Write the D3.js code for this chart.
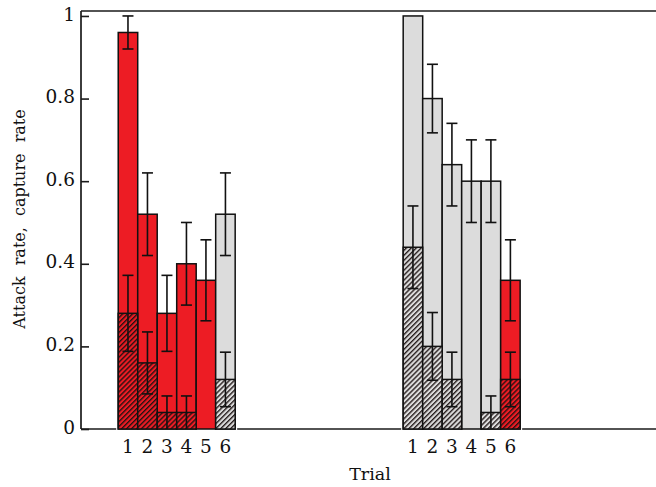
<!DOCTYPE html>
<html><head><meta charset="utf-8">
<script src="https://cdn.jsdelivr.net/npm/d3@7"></script>
<style>body{margin:0;background:#fff}svg{display:block}</style>
</head><body><svg id="c" width="656" height="487"></svg>
<script>
// ---- data ----
const trials = ["1","2","3","4","5","6"];
const groups = ["Condition A","Condition B"];
// attack rate (full bars) and its error
const attackA = [0.96, 0.52, 0.28, 0.40, 0.36, 0.52];
const attackErrA = [0.04, 0.10, 0.092, 0.10, 0.098, 0.10];
const attackB = [1.00, 0.80, 0.64, 0.60, 0.60, 0.36];
const attackErrB = [0, 0.083, 0.10, 0.10, 0.10, 0.098];
// capture rate (hatched bars) and its error
const captureA = [0.28, 0.16, 0.04, 0.04, 0, 0.12];
const captureErrA = [0.092, 0.075, 0.04, 0.04, 0, 0.066];
const captureB = [0.44, 0.20, 0.12, 0, 0.04, 0.12];
const captureErrB = [0.10, 0.082, 0.066, 0, 0.04, 0.066];
// treatment kind per bar (red / grey)
const kindA = ["red","red","red","red","red","grey"];
const kindB = ["grey","grey","grey","grey","grey","red"];
const yTicks = [0, 0.2, 0.4, 0.6, 0.8, 1];
const yTickLabels = ["0","0.2","0.4","0.6","0.8","1"];

// ---- layout ----
const mLeft = 81, mTop = 11, mBottom = 429, mRight = 656;
const colors = {red: "#ED1C24", grey: "#DCDCDC"};
const groupStart = [1.91, 16.53];

const svg = d3.select("#c");
const x = d3.scaleLinear().domain([0, 29.5]).range([mLeft, mRight]);
const y = d3.scaleLinear().domain([0, 1.012]).range([mBottom, mTop]);

// hatch patterns
const defs = svg.append("defs");
Object.entries(colors).forEach(([k, c]) => {
  const p = defs.append("pattern").attr("id", "hatch-" + k)
    .attr("patternUnits", "userSpaceOnUse").attr("width", 3.5).attr("height", 3.5)
    .attr("patternTransform", "rotate(45)");
  p.append("rect").attr("width", 3.5).attr("height", 3.5).attr("fill", c);
  p.append("line").attr("x1", 0.7).attr("y1", 0).attr("x2", 0.7).attr("y2", 3.5)
    .attr("stroke", "#1a1010").attr("stroke-width", 1.3);
});

const data = [];
[[attackA, attackErrA, captureA, captureErrA, kindA],
 [attackB, attackErrB, captureB, captureErrB, kindB]].forEach((arr, g) => {
  trials.forEach((t, i) => {
    data.push({g, i, t, att: arr[0][i], attErr: arr[1][i], cap: arr[2][i], capErr: arr[3][i], kind: arr[4][i],
               x0: groupStart[g] + i});
  });
});

// axes frame
const frame = svg.append("g").attr("stroke", "#1a1a1a").attr("stroke-width", 1.7).attr("fill", "none");
frame.append("line").attr("x1", mLeft).attr("x2", mRight).attr("y1", mTop).attr("y2", mTop);
frame.append("line").attr("x1", mLeft).attr("x2", mRight).attr("y1", mBottom).attr("y2", mBottom);
frame.append("line").attr("x1", mLeft).attr("x2", mLeft).attr("y1", mTop).attr("y2", mBottom);

// y axis via d3.axisRight (inward ticks)
const yAxis = svg.append("g").attr("transform", `translate(${mLeft},0)`)
  .call(d3.axisRight(y).tickValues(yTicks).tickSize(8).tickFormat(() => ""));
yAxis.select(".domain").remove();
yAxis.selectAll("line").attr("stroke", "#1a1a1a").attr("stroke-width", 1.6);
svg.append("g").selectAll("text").data(yTicks).join("text")
  .attr("x", mLeft - 6).attr("y", d => y(d)).attr("dy", "0.25em")
  .attr("text-anchor", "end").attr("font-family", "DejaVu Serif").attr("font-size", 18.5)
  .attr("fill", "#111").text((d, i) => yTickLabels[i]);

// bars
const bw = x(1) - x(0);
const bars = svg.append("g");
groups.forEach((gname, g) => {
  bars.append("rect").attr("x", x(groupStart[g]) - 2).attr("width", x(groupStart[g] + trials.length) - x(groupStart[g]) + 4)
    .attr("y", y(0) - 1).attr("height", 2).attr("fill", "#fff");
});
bars.selectAll("rect.full").data(data).join("rect").attr("class", "full")
  .attr("x", d => x(d.x0)).attr("width", bw)
  .attr("y", d => y(d.att)).attr("height", d => y(0) - y(d.att))
  .attr("fill", d => colors[d.kind]).attr("stroke", "#111").attr("stroke-width", 1.5);
bars.selectAll("rect.cap").data(data.filter(d => d.cap > 0)).join("rect").attr("class", "cap")
  .attr("x", d => x(d.x0)).attr("width", bw)
  .attr("y", d => y(d.cap)).attr("height", d => y(0) - y(d.cap))
  .attr("fill", d => `url(#hatch-${d.kind})`).attr("stroke", "#111").attr("stroke-width", 1.5);

// error bars
const capW = 5.5;
function errBars(list, vKey, eKey) {
  const g = svg.append("g").attr("stroke", "#111").attr("stroke-width", 1.6);
  list.filter(d => d[eKey] > 0).forEach(d => {
    const cx = x(d.x0 + 0.5);
    const hi = Math.min(d[vKey] + d[eKey], 1.012), lo = Math.max(d[vKey] - d[eKey], 0);
    g.append("line").attr("x1", cx).attr("x2", cx).attr("y1", y(hi)).attr("y2", y(lo));
    g.append("line").attr("x1", cx - capW).attr("x2", cx + capW).attr("y1", y(hi)).attr("y2", y(hi));
    if (lo > 0) g.append("line").attr("x1", cx - capW).attr("x2", cx + capW).attr("y1", y(lo)).attr("y2", y(lo));
  });
}
errBars(data, "att", "attErr");
errBars(data, "cap", "capErr");

// x tick labels
svg.append("g").selectAll("text").data(data).join("text")
  .attr("x", d => x(d.x0 + 0.5)).attr("y", 453)
  .attr("text-anchor", "middle").attr("font-family", "DejaVu Serif").attr("font-size", 18.5)
  .attr("fill", "#111").text(d => d.t);

// axis labels
svg.append("text").attr("x", 370).attr("y", 480).attr("text-anchor", "middle")
  .attr("font-family", "DejaVu Serif").attr("font-size", 17.5).attr("fill", "#111").text("Trial");
svg.append("text").attr("transform", "translate(25,219) rotate(-90)").attr("text-anchor", "middle")
  .attr("font-family", "DejaVu Serif").attr("font-size", 16).attr("word-spacing", 6).attr("fill", "#111")
  .text("Attack rate, capture rate");
</script></body></html>
